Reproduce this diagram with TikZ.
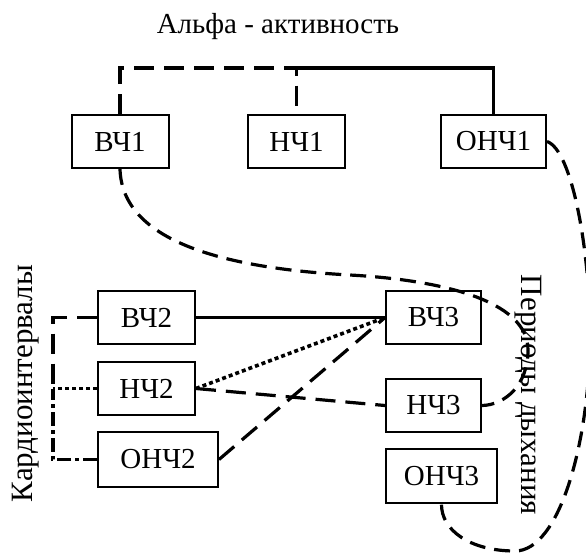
\documentclass[tikz,border=0pt]{standalone}
\usepackage{fontspec}
\setmainfont{Liberation Serif}
\begin{document}
\begin{tikzpicture}[
  x=1pt, y=-1pt,
  font=\fontsize{29}{32}\selectfont,
  blk/.style={rectangle, draw, line width=2pt, minimum height=53pt,
    minimum width=97pt, inner sep=0pt},
  lbl/.style={inner sep=0pt, anchor=base},
  vlbl/.style={lbl, font=\fontsize{31}{34}\selectfont},
  c/.style={line width=3.2pt},
  dl/.style={c, dash pattern=on 20pt off 10pt},
  dc/.style={c, dash pattern=on 16pt off 9pt},
  dt/.style={c, line width=3.6pt, dash pattern=on 4pt off 3pt},
  dd/.style={c, dash pattern=on 14pt off 4pt on 4pt off 4pt}
]
\useasboundingbox (0,0) rectangle (586,555);
\node[lbl] (ttl) at (278,33) {Альфа - активность};
\node[vlbl, rotate=90] (kard) at (32,383.5) {Кардиоинтервалы};
\node[vlbl, rotate=-90] (dyh) at (521,395) {Периоды дыхания};
\node[blk] (vch1) at (120,141.5) {ВЧ1};
\node[blk] (nch1) at (296.5,141.5) {НЧ1};
\node[blk, minimum width=105pt] (onch1) at (493.5,141.5) {ОНЧ1};
\node[blk] (vch2) at (146.5,317.5) {ВЧ2};
\node[blk] (nch2) at (146.5,388.5) {НЧ2};
\node[blk, minimum width=120pt, minimum height=55pt] (onch2) at (158,459.5) {ОНЧ2};
\node[blk, minimum width=95pt] (vch3) at (433.5,317.5) {ВЧ3};
\node[blk, minimum width=95pt] (nch3) at (433.5,405.5) {НЧ3};
\node[blk, minimum width=111pt, minimum height=54pt] (onch3) at (441.5,476) {ОНЧ3};
\coordinate (top) at (296.5,68);
\coordinate (lft) at (53,388.5);
\draw[dl] (vch1.north) |- (top) -- (nch1.north);
\draw[c] (onch1.north) |- (top);
\draw[dl] (vch2.west) -| (lft);
\draw[dt] (nch2.west) -- (lft);
\draw[dd] (onch2.west) -| (lft);
\draw[c] (vch2.east) -- (vch3.west);
\draw[dt] (nch2.east) -- (vch3.west);
\draw[dl] (nch2.east) -- (nch3.west);
\draw[dl] (onch2.east) -- (vch3.west);
\draw[dc] (vch1.south) .. controls (122,240) and (220,268) .. (350,275)
  .. controls (440,280) and (528,300) .. (528,350)
  .. controls (528,385) and (505,405) .. (nch3.east);
\draw[dc] (onch1.east) .. controls (572,150) and (590,250) .. (590,335)
  .. controls (590,440) and (560,551) .. (515,551)
  .. controls (470,551) and (441,530) .. (onch3.south);
\end{tikzpicture}
\end{document}
